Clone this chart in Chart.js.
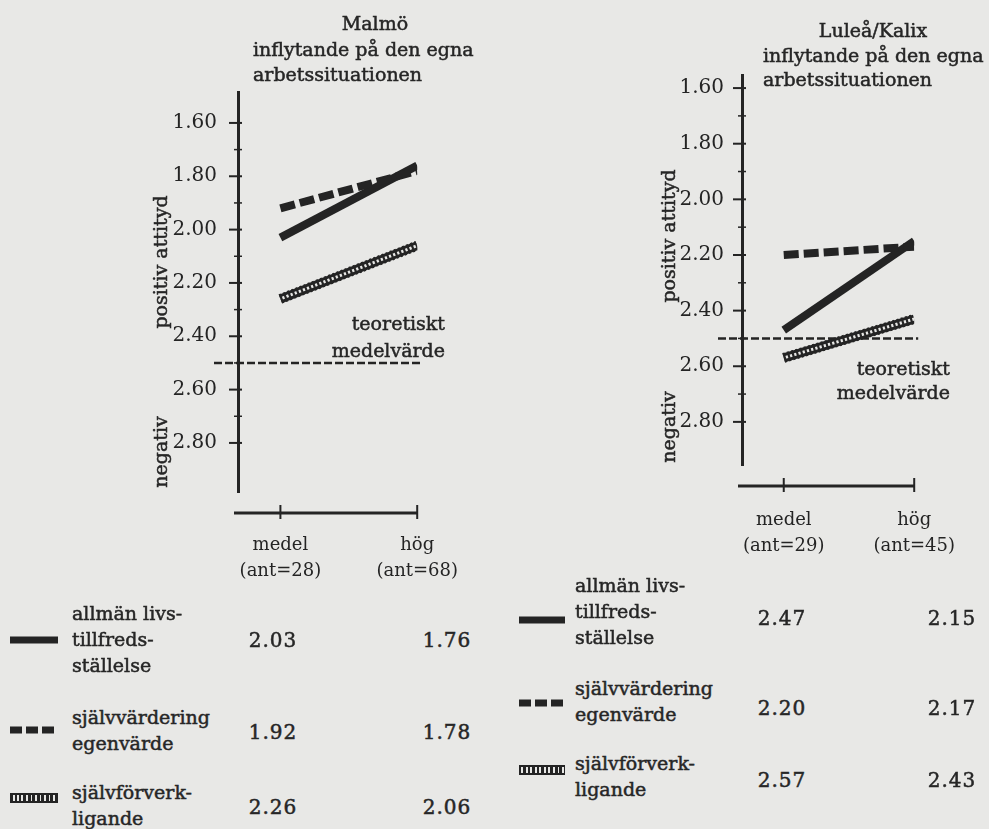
<!DOCTYPE html>
<html>
<head>
<meta charset="utf-8">
<script src="https://cdn.jsdelivr.net/npm/chart.js@4.4.0/dist/chart.umd.min.js"></script>
<style>
  body { margin: 0; background: #e8e8e6; }
  #page { position: relative; width: 989px; height: 829px; overflow: hidden;
          font-family: 'DejaVu Serif', 'Liberation Serif', serif; color: #262626; }
  canvas { position: absolute; top: 0; }
  .t { position: absolute; white-space: nowrap; font-size: 19px; line-height: 26px;
       -webkit-text-stroke: 0.5px #262626; }
  .c { transform: translateX(-50%); }
  .r { transform: translateX(-100%); }
  .rot { transform: translate(-50%, -50%) rotate(-90deg); }
  .val { font-size: 20px; letter-spacing: 1px; }
  .icon { position: absolute; }
</style>
</head>
<body>
<div id="page">
  <canvas id="malmo" width="490" height="620" style="left:0;width:490px;height:620px"></canvas>
  <canvas id="lulea" width="509" height="620" style="left:480px;width:509px;height:620px"></canvas>

  <!-- titles -->
  <div class="t c" style="left:375px;top:10px">Malmö</div>
  <div class="t" style="left:253px;top:36px">inflytande på den egna</div>
  <div class="t" style="left:253px;top:61px">arbetssituationen</div>

  <div class="t c" style="left:873px;top:17px">Luleå/Kalix</div>
  <div class="t" style="left:763px;top:42px">inflytande på den egna</div>
  <div class="t" style="left:763px;top:66px">arbetssituationen</div>

  <!-- axis side texts -->
  <div class="t rot" style="left:160px;top:262px">positiv attityd</div>
  <div class="t rot" style="left:160px;top:452px">negativ</div>
  <div class="t rot" style="left:668px;top:236px">positiv attityd</div>
  <div class="t rot" style="left:668px;top:427px">negativ</div>

  <div class="t r" style="left:445px;top:310px">teoretiskt</div>
  <div class="t r" style="left:445px;top:337px">medelvärde</div>
  <div class="t r" style="left:950px;top:355px">teoretiskt</div>
  <div class="t r" style="left:950px;top:379px">medelvärde</div>

  <div id="legend"></div>
</div>

<script>
// categories and values (lower value = more positive attitude)
const categories = ["medel", "hög"];
const malmoCounts = [28, 68];
const luleaCounts = [29, 45];

const seriesNames = [
  ["allmän livs-", "tillfreds-", "ställelse"],
  ["självvärdering", "egenvärde"],
  ["självförverk-", "ligande"]
];

const malmoAllman = [2.03, 1.76];
const malmoSjalvvardering = [1.92, 1.78];
const malmoSjalvforverk = [2.26, 2.06];

const luleaAllman = [2.47, 2.15];
const luleaSjalvvardering = [2.20, 2.17];
const luleaSjalvforverk = [2.57, 2.43];

const yTicks = [1.6, 1.8, 2.0, 2.2, 2.4, 2.6, 2.8];
const yMinorTicks = [1.7, 1.9, 2.1, 2.3, 2.5, 2.7];
const theoryMean = 2.5;

const ink = "#242424";
const paper = "#e8e8e6";
const fontFamily = "'DejaVu Serif', 'Liberation Serif', serif";

function pts(vals) {
  return vals.map((v, i) => ({ x: i, y: v }));
}

function line(ctx, x1, y1, x2, y2) {
  ctx.beginPath();
  ctx.moveTo(x1, y1);
  ctx.lineTo(x2, y2);
  ctx.stroke();
}

// draws the typed-looking axes: ticks crossing the y axis, detached x axis, mean line
const scanAxes = {
  id: "scanAxes",
  beforeDatasetsDraw(chart) {
    const { ctx, chartArea: a, scales: { x, y } } = chart;
    ctx.save();
    ctx.strokeStyle = ink;
    ctx.setLineDash([8, 3]);
    ctx.lineWidth = 2.6;
    const py = y.getPixelForValue(theoryMean);
    line(ctx, a.left - 24, py, x.getPixelForValue(1) + 4, py);
    ctx.restore();
  },
  afterDraw(chart) {
    const { ctx, chartArea: a, scales: { x, y } } = chart;
    ctx.save();
    ctx.strokeStyle = ink;
    ctx.lineWidth = 2;
    yTicks.forEach((v) => {
      const py = y.getPixelForValue(v);
      line(ctx, a.left - 9, py, a.left + 4, py);
    });
    ctx.lineWidth = 1.5;
    yMinorTicks.forEach((v) => {
      const py = y.getPixelForValue(v);
      line(ctx, a.left - 4, py, a.left + 4, py);
    });
    const ay = a.bottom + 21;
    ctx.lineWidth = 3;
    line(ctx, a.left - 4, ay, x.getPixelForValue(1), ay);
    ctx.lineWidth = 2;
    categories.forEach((c, i) => {
      const px = x.getPixelForValue(i);
      line(ctx, px, ay - 8, px, ay + 6);
    });
    ctx.restore();
  }
};

function makeChart(id, cfg) {
  const base = { borderColor: ink, pointRadius: 0, tension: 0, fill: false, borderCapStyle: "butt" };
  return new Chart(document.getElementById(id), {
    type: "line",
    data: {
      datasets: [
        // hatched "ladder": rungs on top of two rails
        { ...base, data: pts(cfg.forverk), borderWidth: 10, borderDash: [2.2, 2.2], order: 1 },
        { ...base, data: pts(cfg.forverk), borderColor: paper, borderWidth: 3, order: 2 },
        { ...base, data: pts(cfg.forverk), borderWidth: 9, order: 3 },
        { ...base, data: pts(cfg.sjalv), borderWidth: 8, borderDash: [15, 5], order: 4 },
        { ...base, data: pts(cfg.allman), borderWidth: 8, order: 5 }
      ]
    },
    options: {
      responsive: false,
      animation: false,
      events: [],
      layout: { padding: cfg.padding, autoPadding: false },
      plugins: { legend: { display: false }, tooltip: { enabled: false } },
      scales: {
        x: {
          type: "linear",
          min: cfg.xMin,
          max: 1,
          grid: { display: false },
          border: { display: false },
          afterBuildTicks: (s) => { s.ticks = categories.map((c, i) => ({ value: i })); },
          afterFit: (s) => { s.height = 100; },
          ticks: {
            autoSkip: false,
            maxRotation: 0,
            padding: cfg.labelPad,
            color: ink,
            font: { family: fontFamily, size: 18, lineHeight: 1.45 },
            callback: (v, i) => [categories[i], "(ant=" + cfg.counts[i] + ")"]
          }
        },
        y: {
          type: "linear",
          reverse: true,
          min: cfg.yMin,
          max: cfg.yMax,
          grid: { display: false },
          border: { display: true, width: 3, color: ink },
          afterBuildTicks: (s) => { s.ticks = yTicks.map((v) => ({ value: v })); },
          afterFit: (s) => { s.width = 70; },
          ticks: {
            padding: cfg.tickPad,
            color: ink,
            font: { family: fontFamily, size: 20 },
            callback: (v) => Number(v).toFixed(2)
          }
        }
      }
    },
    plugins: [scanAxes]
  });
}

makeChart("malmo", {
  allman: malmoAllman, sjalv: malmoSjalvvardering, forverk: malmoSjalvforverk,
  counts: malmoCounts, yMin: 1.484, yMax: 2.984, xMin: -0.31,
  padding: { left: 168, right: 42, top: 92, bottom: 28 }, labelPad: 32, tickPad: 13
});

makeChart("lulea", {
  allman: luleaAllman, sjalv: luleaSjalvvardering, forverk: luleaSjalvforverk,
  counts: luleaCounts, yMin: 1.553, yMax: 2.955, xMin: -0.32,
  padding: { left: 192, right: 36, top: 75, bottom: 55 }, labelPad: 34, tickPad: 10
});

// value tables under the charts
const iconStyles = [
  "height:7px;background:" + ink,
  "height:7px;background:repeating-linear-gradient(90deg," + ink + " 0 12px,transparent 12px 16px)",
  "height:10px;box-sizing:border-box;border-top:2px solid " + ink + ";border-bottom:2px solid " + ink +
    ";background:repeating-linear-gradient(90deg," + ink + " 0 2.5px,transparent 2.5px 4.5px)"
];

function addTable(layout, series) {
  const root = document.getElementById("legend");
  layout.rows.forEach((row, k) => {
    const icon = document.createElement("div");
    icon.className = "icon";
    icon.style.cssText = iconStyles[k] + ";left:" + layout.iconX + "px;width:" + layout.iconW +
      "px;top:" + row.iconY + "px;transform:translateY(-50%)";
    root.appendChild(icon);

    const txt = document.createElement("div");
    txt.className = "t";
    txt.style.left = layout.textX + "px";
    txt.style.top = (row.top - 13) + "px";
    txt.innerHTML = seriesNames[k].join("<br>");
    root.appendChild(txt);

    series[k].forEach((v, i) => {
      const el = document.createElement("div");
      el.className = "t c val";
      el.style.left = layout.valX[i] + "px";
      el.style.top = (row.valY - 13) + "px";
      el.textContent = v.toFixed(2);
      root.appendChild(el);
    });
  });
}

addTable({
  iconX: 10, iconW: 48, textX: 72, valX: [273, 447],
  rows: [{ top: 613, valY: 640, iconY: 640 }, { top: 717, valY: 732, iconY: 730 }, { top: 792, valY: 807, iconY: 798 }]
}, [malmoAllman, malmoSjalvvardering, malmoSjalvforverk]);

addTable({
  iconX: 519, iconW: 46, textX: 575, valX: [782, 952],
  rows: [{ top: 585, valY: 618, iconY: 620 }, { top: 688, valY: 708, iconY: 703 }, { top: 763, valY: 780, iconY: 770 }]
}, [luleaAllman, luleaSjalvvardering, luleaSjalvforverk]);
</script>
</body>
</html>
